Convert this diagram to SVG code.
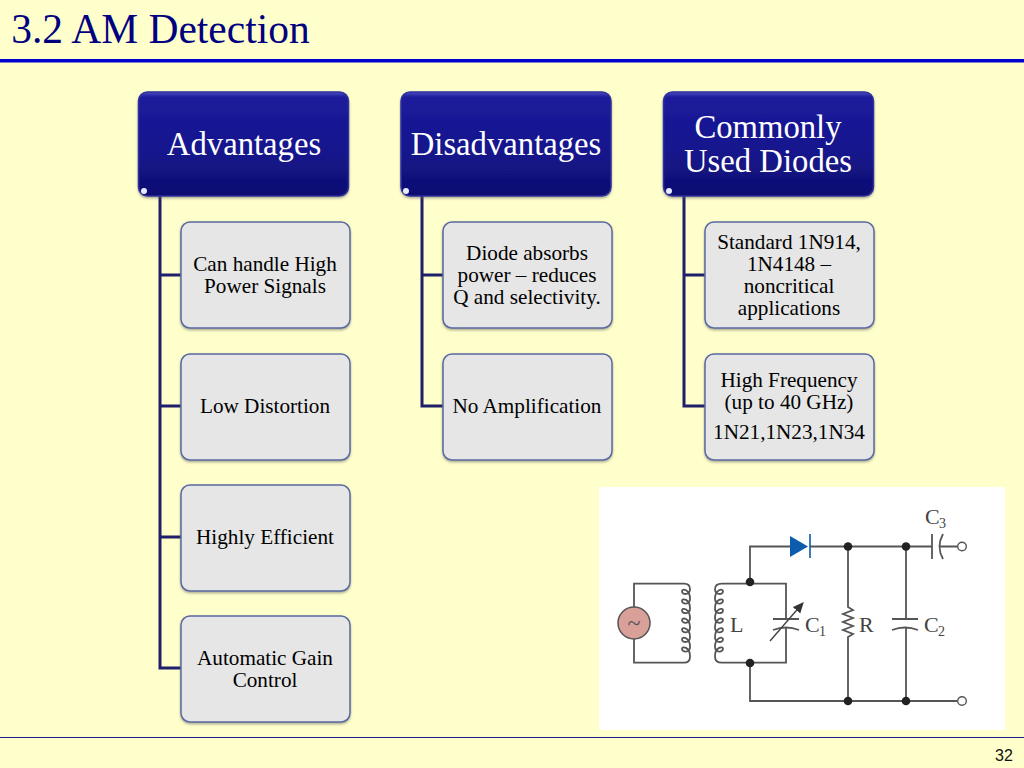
<svg xmlns="http://www.w3.org/2000/svg" width="1024" height="768" viewBox="0 0 1024 768">
<style>
text{font-family:"Liberation Serif","Times New Roman",serif;text-anchor:middle}
.h rect.b{fill:url(#hg);stroke:#30309e;stroke-width:1.5}
.h text{font-size:32.700px;fill:#fff}
.c rect{fill:#e6e6e6;stroke:#5a6aa0;stroke-width:1.5;filter:url(#sh)}
.c text{font-size:21.200px;fill:#000}
.w{fill:none;stroke:#555;stroke-width:1.8}
.d{fill:#222}
.o{fill:#fff;stroke:#555;stroke-width:1.4}
.l{font-size:22px;fill:#444;text-anchor:start}
.s{font-size:14px;fill:#444;text-anchor:start}
.k{fill:none;stroke:#1f1f6b;stroke-width:3}
</style>
<defs>
<linearGradient id="hg" x1="0" y1="0" x2="0" y2="1"><stop offset="0" stop-color="#4a4ac0"/><stop offset="0.05" stop-color="#1c1c9c"/><stop offset="0.6" stop-color="#14148c"/><stop offset="1" stop-color="#0f0f70"/></linearGradient>
<filter id="sh" x="-5%" y="-5%" width="110%" height="112%"><feDropShadow dx="0" dy="1.5" stdDeviation="1.2" flood-color="#555" flood-opacity="0.5"/></filter>
<marker id="ar" markerWidth="9" markerHeight="8" refX="6" refY="3.500" orient="auto"><path d="M0 0L8 3.500L0 7Z" fill="#333"/></marker>
</defs>
<rect width="1024" height="768" fill="#ffffcc"/>
<text x="160.500" y="43" style="font-size:41.500px;fill:#000080">3.2 AM Detection</text>
<rect x="0" y="59" width="1024" height="3.500" fill="#0000d0"/>
<rect x="0" y="737" width="1024" height="1" fill="#1a1a90"/>
<text x="1004" y="761" style="font-family:'Liberation Sans',Arial,sans-serif;font-size:16px;fill:#111">32</text>

<g id="connectors">
<path class="k" d="M160 196V668H181M160 275H181M160 406H181M160 537H181"/>
<path class="k" d="M422 196V406H443M422 275H443"/>
<path class="k" d="M684 196V406H705M684 275H705"/>
</g>

<g id="head-advantages" class="h"><rect class="b" x="138.500" y="92" width="210" height="104" rx="9" filter="url(#sh)"/><circle cx="144" cy="191" r="3" fill="#e6ecff"/><text x="244" y="155">Advantages</text></g>
<g id="head-disadvantages" class="h"><rect class="b" x="401" y="92" width="210" height="104" rx="9" filter="url(#sh)"/><circle cx="406" cy="191" r="3" fill="#e6ecff"/><text x="506" y="155">Disadvantages</text></g>
<g id="head-diodes" class="h"><rect class="b" x="663.500" y="92" width="210" height="104" rx="9" filter="url(#sh)"/><circle cx="669" cy="191" r="3" fill="#e6ecff"/><text x="768" y="138">Commonly</text><text x="768" y="172">Used Diodes</text></g>

<g id="adv-1" class="c"><rect x="181" y="222" width="169" height="106" rx="9"/><text x="265" y="271">Can handle High</text><text x="265" y="293">Power Signals</text></g>
<g id="adv-2" class="c"><rect x="181" y="354" width="169" height="106" rx="9"/><text x="265" y="413">Low Distortion</text></g>
<g id="adv-3" class="c"><rect x="181" y="485" width="169" height="106" rx="9"/><text x="265" y="544">Highly Efficient</text></g>
<g id="adv-4" class="c"><rect x="181" y="616" width="169" height="106" rx="9"/><text x="265" y="665">Automatic Gain</text><text x="265" y="687">Control</text></g>
<g id="dis-1" class="c"><rect x="443" y="222" width="169" height="106" rx="9"/><text x="527" y="260">Diode absorbs</text><text x="527" y="282">power – reduces</text><text x="527" y="304">Q and selectivity.</text></g>
<g id="dis-2" class="c"><rect x="443" y="354" width="169" height="106" rx="9"/><text x="527" y="413">No Amplification</text></g>
<g id="dio-1" class="c"><rect x="705" y="222" width="169" height="106" rx="9"/><text x="789" y="249">Standard 1N914,</text><text x="789" y="271">1N4148 –</text><text x="789" y="293">noncritical</text><text x="789" y="315">applications</text></g>
<g id="dio-2" class="c"><rect x="705" y="354" width="169" height="106" rx="9"/><text x="789" y="387">High Frequency</text><text x="789" y="409">(up to 40 GHz)</text><text x="789" y="439">1N21,1N23,1N34</text></g>

<rect x="599" y="487" width="406" height="243" fill="#fff"/>
<path class="w" d="M634 607V583.700H684q6 0 6 5.500c0 6-8 6-8 2c0-3 8-2 8 7.600c0 6-8 6-8 2c0-3 8-2 8 7.600c0 6-8 6-8 2c0-3 8-2 8 7.600c0 6-8 6-8 2c0-3 8-2 8 7.600c0 6-8 6-8 2c0-3 8-2 8 7.600c0 6-8 6-8 2c0-3 8-2 8 7.600c0 6-8 6-8 2c0-3 8-2 8 7.600q0 6.300-6 6.300H634V639"/>
<path class="w" d="M786 619V583.700H722q-7 0-7 5.500c0 6 8 6 8 2c0-3-8-2-8 7.600c0 6 8 6 8 2c0-3-8-2-8 7.600c0 6 8 6 8 2c0-3-8-2-8 7.600c0 6 8 6 8 2c0-3-8-2-8 7.600c0 6 8 6 8 2c0-3-8-2-8 7.600c0 6 8 6 8 2c0-3-8-2-8 7.600c0 6 8 6 8 2c0-3-8-2-8 7.600q0 6.300 7 6.300H786V628"/>
<path class="w" d="M750 583V546.500H790M810 546.500H932M750 663V701H957"/>
<path class="w" d="M848 546.500V607l5 3-10 4 10 4-10 4 10 4-10 4 10 4-5 3V701"/>
<path class="w" d="M906 546.500V619M906 628V701"/>
<path class="w" d="M892 619H918M892 630q13-5 26 0"/>
<path class="w" d="M773 619H799M773 630q13-5 26 0"/>
<path class="w" style="stroke:#444;stroke-width:1.400" d="M770 641L802 604" marker-end="url(#ar)"/>
<path class="w" d="M932 534V559M943 534q-7 12.500 0 25M939 546.500H958"/>
<path d="M790 536L808 546.500L790 557Z" fill="#0b5cad"/>
<path d="M810 534V558" stroke="#0b5cad" stroke-width="1.600"/>
<circle cx="634" cy="623" r="16" fill="#d9a09a" stroke="#555" stroke-width="1.500"/>
<text x="634" y="631" style="font-size:24px;fill:#555">~</text>
<circle class="d" cx="750" cy="582" r="4.300"/><circle class="d" cx="750" cy="663" r="4.300"/>
<circle class="d" cx="848" cy="546.500" r="4.300"/><circle class="d" cx="906" cy="546.500" r="4.300"/>
<circle class="d" cx="848" cy="701" r="4.300"/><circle class="d" cx="906" cy="701" r="4.300"/>
<circle class="o" cx="962" cy="546.500" r="4.300"/><circle class="o" cx="962" cy="701" r="4.300"/>
<text class="l" x="730" y="632">L</text>
<text class="l" x="805" y="632">C</text><text class="s" x="819" y="636">1</text>
<text class="l" x="859" y="632">R</text>
<text class="l" x="924" y="632">C</text><text class="s" x="938" y="636">2</text>
<text class="l" x="925" y="524">C</text><text class="s" x="939" y="528">3</text>
</svg>
